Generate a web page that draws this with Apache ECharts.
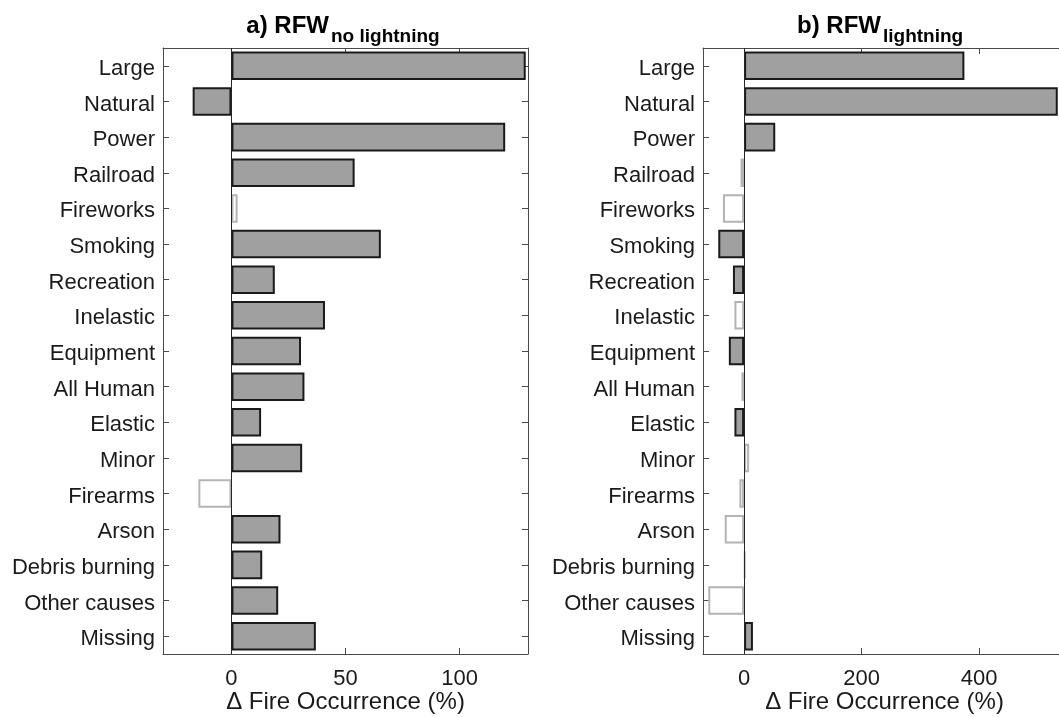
<!DOCTYPE html>
<html>
<head>
<meta charset="utf-8">
<script src="https://cdn.jsdelivr.net/npm/echarts@6/dist/echarts.min.js"></script>
<style>
html,body{margin:0;padding:0;background:#fff;}
#chart{width:1059px;height:717px;}
</style>
</head>
<body>
<div id="chart"></div>
<script>
const categories = ['Large','Natural','Power','Railroad','Fireworks','Smoking','Recreation','Inelastic','Equipment','All Human','Elastic','Minor','Firearms','Arson','Debris burning','Other causes','Missing'];
const valuesNoLightning = [129, -17, 120, 54, 2.7, 65.5, 19, 41, 30.5, 32, 13, 31, -14.5, 21.5, 13.5, 20.5, 37];
const sigNoLightning    = [1, 1, 1, 1, 0, 1, 1, 1, 1, 1, 1, 1, 0, 1, 1, 1, 1];
const valuesLightning = [375, 534, 53, -6, -36, -44, -19, -16.5, -26, -4.5, -16.5, 8.5, -8, -33, 2, -61, 15];
const sigLightning    = [1, 1, 1, 0, 0, 1, 1, 0, 1, 0, 1, 0, 0, 0, 0, 0, 1];
const ticksLeft = [0, 50, 100];
const ticksRight = [0, 200, 400];
const xName = '\u0394 Fire Occurrence (%)';

const FONT = 'Liberation Sans, Arial, Helvetica, sans-serif';
const AXC = '#4a4a4a';
const TXT = '#1a1a1a';

function barData(vals, sig) {
  return vals.map((v, i) => ({
    value: v,
    itemStyle: sig[i]
      ? {color: '#a0a0a0', borderColor: '#1a1a1a', borderWidth: 2}
      : {color: '#ffffff', borderColor: '#b4b4b4', borderWidth: 2}
  }));
}

function xAxes(gi, min, max, ticks) {
  return [
    {gridIndex: gi, type: 'value', min: min, max: max, position: 'bottom',
     axisLine: {show: true, lineStyle: {color: AXC, width: 1}},
     axisTick: {show: true, inside: true, length: 6, customValues: ticks, lineStyle: {color: AXC}},
     axisLabel: {show: true, customValues: ticks, color: TXT, fontSize: 22, fontFamily: FONT, margin: 14},
     splitLine: {show: false},
     name: xName, nameLocation: 'middle', nameGap: 36, nameMoveOverlap: false,
     nameTextStyle: {color: TXT, fontSize: 24, fontFamily: FONT}},
    {gridIndex: gi, type: 'value', min: min, max: max, position: 'top',
     axisLine: {show: true, lineStyle: {color: AXC, width: 1}},
     axisTick: {show: true, inside: true, length: 6, customValues: ticks, lineStyle: {color: AXC}},
     axisLabel: {show: false}, splitLine: {show: false}}
  ];
}

function yAxes(gi, showRight) {
  return [
    {gridIndex: gi, type: 'category', data: categories, inverse: true, position: 'left',
     axisLine: {show: true, onZero: false, lineStyle: {color: AXC, width: 1}},
     axisTick: {show: true, inside: true, length: 6, alignWithLabel: true, lineStyle: {color: AXC}},
     axisLabel: {margin: 8, formatter: v => '{a|' + v + '}',
       rich: {a: {color: TXT, fontSize: 22, fontFamily: FONT, padding: [6, 0, 0, 0]}}},
     splitLine: {show: false}},
    {gridIndex: gi, type: 'category', data: categories, inverse: true, position: 'right', show: showRight,
     axisLine: {show: true, onZero: false, lineStyle: {color: AXC, width: 1}},
     axisTick: {show: true, inside: true, length: 6, alignWithLabel: true, lineStyle: {color: AXC}},
     axisLabel: {show: false}, splitLine: {show: false}}
  ];
}

function baseLine() {
  return {symbol: 'none', silent: true, label: {show: false},
    lineStyle: {color: '#262626', width: 1, type: 'solid'},
    data: [{xAxis: 0}]};
}

const chart = echarts.init(document.getElementById('chart'), null, {renderer: 'canvas'});
chart.setOption({
  animation: false,
  backgroundColor: '#ffffff',
  grid: [
    {left: 163, top: 48, width: 365, height: 606, containLabel: false, outerBoundsMode: 'none'},
    {left: 703, top: 48, width: 363, height: 606, containLabel: false, outerBoundsMode: 'none'}
  ],
  xAxis: [].concat(xAxes(0, -30, 130, ticksLeft), xAxes(1, -70, 548, ticksRight)),
  yAxis: [].concat(yAxes(0, true), yAxes(1, false)),
  series: [
    {type: 'bar', xAxisIndex: 0, yAxisIndex: 0, barWidth: '80%',
     data: barData(valuesNoLightning, sigNoLightning), markLine: baseLine()},
    {type: 'bar', xAxisIndex: 2, yAxisIndex: 2, barWidth: '80%',
     data: barData(valuesLightning, sigLightning), markLine: baseLine()}
  ],
  graphic: [
    {type: 'text', x: 329, y: 26, style: {text: 'a) RFW', font: 'bold 24px ' + FONT, fill: '#000', align: 'right', verticalAlign: 'middle'}},
    {type: 'text', x: 331, y: 37, style: {text: 'no lightning', font: 'bold 19px ' + FONT, fill: '#000', align: 'left', verticalAlign: 'middle'}},
    {type: 'text', x: 881, y: 26, style: {text: 'b) RFW', font: 'bold 24px ' + FONT, fill: '#000', align: 'right', verticalAlign: 'middle'}},
    {type: 'text', x: 883, y: 37, style: {text: 'lightning', font: 'bold 19px ' + FONT, fill: '#000', align: 'left', verticalAlign: 'middle'}}
  ]
});
</script>
</body>
</html>
